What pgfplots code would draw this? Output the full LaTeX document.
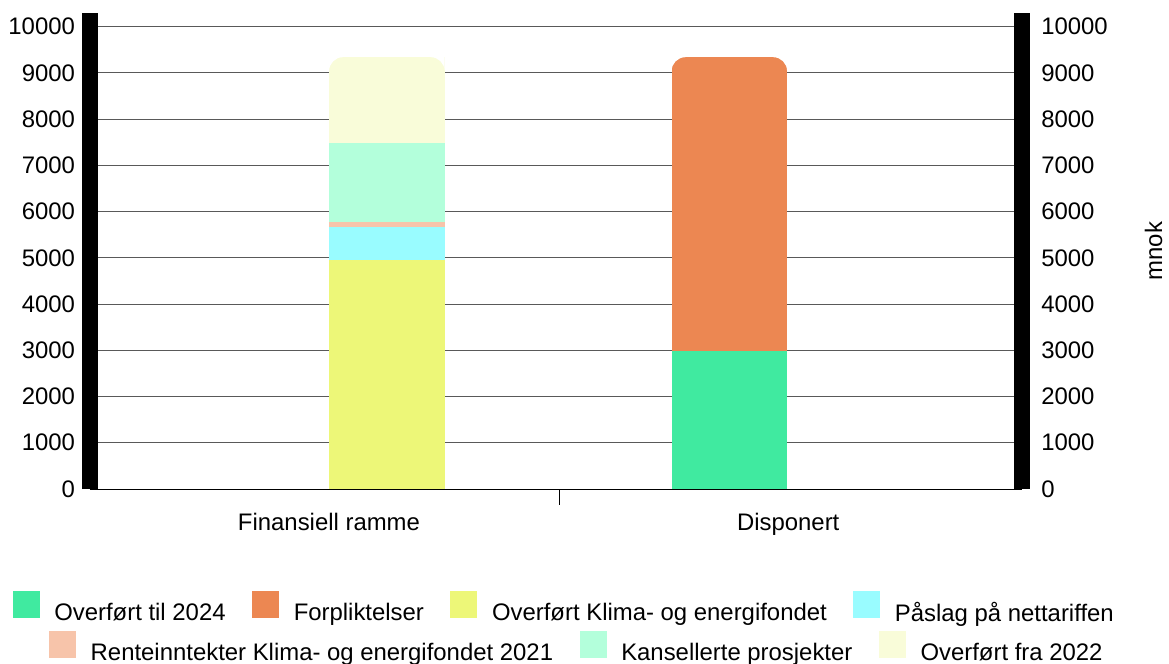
\documentclass[border=0pt]{standalone}
\usepackage{fontspec}
\setmainfont{Liberation Sans}
\usepackage{pgfplots}
\pgfplotsset{compat=1.18}

\definecolor{cTil}{HTML}{40EAA0}
\definecolor{cForp}{HTML}{EC8752}
\definecolor{cKlima}{HTML}{EDF778}
\definecolor{cPaslag}{HTML}{99FCFF}
\definecolor{cRente}{HTML}{F7C4AA}
\definecolor{cKans}{HTML}{B3FFDB}
\definecolor{cFra}{HTML}{F9FCD9}

% cut the two upper corners of a bar into quarter circles (basic layer, canvas units)
\tikzset{
  round top/.style={path picture={%
    \pgftransformreset
    \pgfpathmoveto{\pgfpointanchor{path picture bounding box}{north west}}%
    \pgfpathlineto{\pgfpointadd{\pgfpointanchor{path picture bounding box}{north west}}{\pgfqpoint{#1}{0pt}}}%
    \pgfpatharc{90}{180}{#1}%
    \pgfpathclose
    \pgfpathmoveto{\pgfpointanchor{path picture bounding box}{north east}}%
    \pgfpathlineto{\pgfpointadd{\pgfpointanchor{path picture bounding box}{north east}}{\pgfqpoint{-#1}{0pt}}}%
    \pgfpatharc{90}{0}{#1}%
    \pgfpathclose
    \pgfsetfillcolor{white}%
    \pgfusepath{fill}%
  }},
}

\pgfplotsset{
  patch/.style={legend image code/.code={\fill[#1] (0pt,-2.05pt) rectangle (13pt,10.95pt);}},
  chartbase/.style={
    scale only axis, width=468pt, height=238.85pt,
    xmin=-0.867, xmax=1.855, ymin=0, ymax=10290,
    ytick={0,1000,...,10000},
    scaled y ticks=false,
    y tick label style={/pgf/number format/1000 sep={},
      /pgf/number format/assume math mode=true},
    tick label style={font=\fontsize{12}{14}\selectfont},
    legend style={draw=none, fill=none, inner sep=0pt, outer sep=0pt,
      font=\fontsize{12}{14}\selectfont,
      nodes={inner sep=0pt},
      /tikz/every odd column/.append style={column sep=7.5pt},
      /tikz/every even column/.append style={column sep=13.3pt}},
  },
}

\begin{document}
\begin{tikzpicture}
% left scale, grid and the "Finansiell ramme" stack
\begin{axis}[
  chartbase,
  ybar stacked, bar width=58pt,
  axis x line*=bottom, axis y line*=box,
  x axis line style={-, line width=0.5pt, black},
  y axis line style={-, line width=8.35pt, black},
  xtick={-0.169,1.172}, xticklabels={Finansiell ramme, Disponert},
  x tick label style={yshift=-8.5pt},
  major tick length=0pt,
  ymajorgrids, grid style={black!65, line width=0.5pt},
  yticklabel pos=left,
  y tick label style={anchor=east, xshift=-4pt},
  legend columns=4,
  legend style={at={(axis description cs:0,0)}, anchor=north west,
    xshift=-38.8pt, yshift=-51.45pt},
]
\addplot[forget plot, fill=cKlima, draw=none] coordinates {(0,4950)};
\addplot[forget plot, fill=cPaslag, draw=none] coordinates {(0,715)};
\addplot[forget plot, fill=cRente, draw=none] coordinates {(0,100)};
\addplot[forget plot, fill=cKans, draw=none] coordinates {(0,1715)};
\addplot[forget plot, fill=cFra, draw=none, round top=7pt] coordinates {(0,1860)};

\addlegendimage{patch=cTil}
\addlegendentry{Overført til 2024}
\addlegendimage{patch=cForp}
\addlegendentry{Forpliktelser}
\addlegendimage{patch=cKlima}
\addlegendentry{Overført Klima- og energifondet}
\addlegendimage{patch=cPaslag}
\addlegendentry{Påslag på nettariffen}
\end{axis}

% right scale, category divider, the "Disponert" stack and the second legend row
\begin{axis}[
  chartbase,
  ybar stacked, bar width=58pt,
  axis x line*=bottom, axis y line*=right,
  axis line style={draw=none},
  xtick={0.5055}, xticklabels={},
  tick align=outside, major tick length=8pt,
  xtick style={draw=black, line width=0.5pt},
  ytick style={draw=none},
  y tick label style={anchor=west, xshift=-1.9pt},
  ylabel={mnok},
  ylabel style={at={(axis description cs:1.141,0.5)}, anchor=center, rotate=0,
    font=\fontsize{12}{14}\selectfont},
  legend columns=3,
  legend style={at={(axis description cs:0,0)}, anchor=north west,
    xshift=-20.5pt, yshift=-71.3pt},
]
\addplot[forget plot, fill=cTil, draw=none] coordinates {(1,2980)};
\addplot[forget plot, fill=cForp, draw=none, round top=7pt] coordinates {(1,6360)};

\addlegendimage{patch=cRente}
\addlegendentry{Renteinntekter Klima- og energifondet 2021}
\addlegendimage{patch=cKans}
\addlegendentry{Kansellerte prosjekter}
\addlegendimage{patch=cFra}
\addlegendentry{Overført fra 2022}
\end{axis}

\path (current axis.north west) ++(-45.15pt,6.65pt) rectangle ++(584.5pt,-331pt);
\end{tikzpicture}
\end{document}
